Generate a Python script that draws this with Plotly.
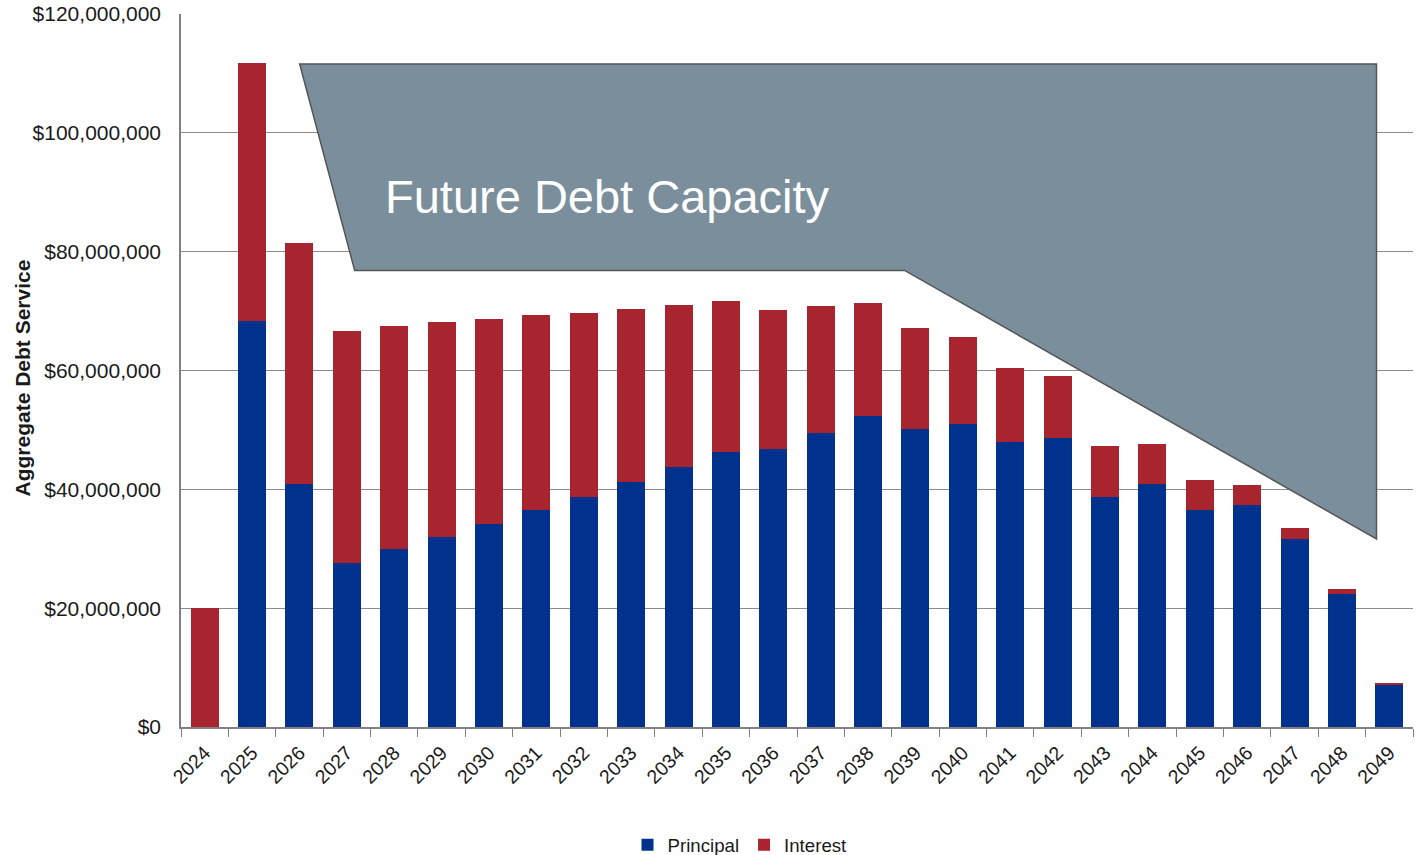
import plotly.graph_objects as go

years = [str(y) for y in range(2024, 2050)]
principal = [0, 68_300_000, 40_900_000, 27_600_000, 30_000_000, 32_000_000, 34_100_000,
             36_500_000, 38_700_000, 41_200_000, 43_700_000, 46_300_000, 46_800_000,
             49_500_000, 52_400_000, 50_100_000, 51_000_000, 47_900_000, 48_700_000,
             38_700_000, 40_900_000, 36_500_000, 37_300_000, 31_600_000, 22_400_000,
             7_070_000]
interest = [20_000_000, 43_500_000, 40_600_000, 39_000_000, 37_500_000, 36_100_000,
            34_500_000, 32_800_000, 31_000_000, 29_200_000, 27_300_000, 25_400_000,
            23_300_000, 21_300_000, 19_000_000, 17_000_000, 14_700_000, 12_500_000,
            10_400_000, 8_600_000, 6_700_000, 5_100_000, 3_500_000, 1_900_000,
            800_000, 230_000]
y_ticks = [0, 20_000_000, 40_000_000, 60_000_000, 80_000_000, 100_000_000, 120_000_000]
y_tick_text = [f"${v:,}" for v in y_ticks]

BLUE = "#00318d"
RED = "#a8252f"
FONT = "Liberation Sans, Arial, sans-serif"

fig = go.Figure()
fig.add_trace(go.Bar(x=years, y=principal, name="Principal",
                     marker=dict(color=BLUE, line=dict(width=0))))
fig.add_trace(go.Bar(x=years, y=interest, name="Interest",
                     marker=dict(color=RED, line=dict(width=0))))

# Future debt capacity polygon (category index on x, dollars on y)
fig.add_shape(type="path", xref="x", yref="y", layer="above",
              path="M 2.004,111600000 L 24.73,111600000 L 24.73,31650000 "
                   "L 14.77,76850000 L 3.165,76850000 Z",
              fillcolor="#7a8f9b", line=dict(color="#555555", width=1.5))

fig.add_annotation(text="Future Debt Capacity", xref="paper", yref="paper",
                   x=(383 - 181) / 1232, y=(727 - 197) / 713, xanchor="left",
                   yanchor="middle", showarrow=False,
                   font=dict(family=FONT, size=47, color="white"))

fig.add_annotation(text="<b>Aggregate Debt Service</b>", xref="paper", yref="paper",
                   x=(21.5 - 181) / 1232, y=(727 - 378) / 713, xanchor="center",
                   yanchor="middle", textangle=-90, showarrow=False,
                   font=dict(family=FONT, size=21, color="#1a1a1a"))

fig.update_layout(
    width=1418, height=855,
    margin=dict(l=181, r=5, t=14, b=128, autoexpand=False),
    barmode="stack", bargap=0.41,
    plot_bgcolor="white", paper_bgcolor="white",
    font=dict(family=FONT, size=18.67, color="#1a1a1a"),
    legend=dict(orientation="h", x=(740 - 181) / 1232, xanchor="center",
                y=(727 - 845) / 713, yanchor="middle",
                font=dict(size=18.67, color="#1a1a1a"), itemwidth=30,
                traceorder="normal"),
    xaxis=dict(type="category", range=[-0.5, 25.5], tickangle=-45,
               tickson="boundaries", ticks="outside", ticklen=8, tickcolor="#808080",
               ticklabelstandoff=5,
               showline=True, linecolor="#808080", linewidth=1.5, showgrid=False,
               tickfont=dict(size=19.5, color="#1a1a1a")),
    yaxis=dict(range=[0, 120_000_000], tickvals=y_ticks, ticktext=y_tick_text,
               showgrid=True, gridcolor="#8c8c8c", gridwidth=1,
               showline=True, linecolor="#808080", linewidth=1.5, zeroline=False,
               ticks="outside", ticklen=14, tickcolor="rgba(0,0,0,0)",
               tickfont=dict(size=21, color="#1a1a1a")),
)

fig.write_html("out.html", config={"displayModeBar": False},
               post_script="document.body.style.margin='0';")
